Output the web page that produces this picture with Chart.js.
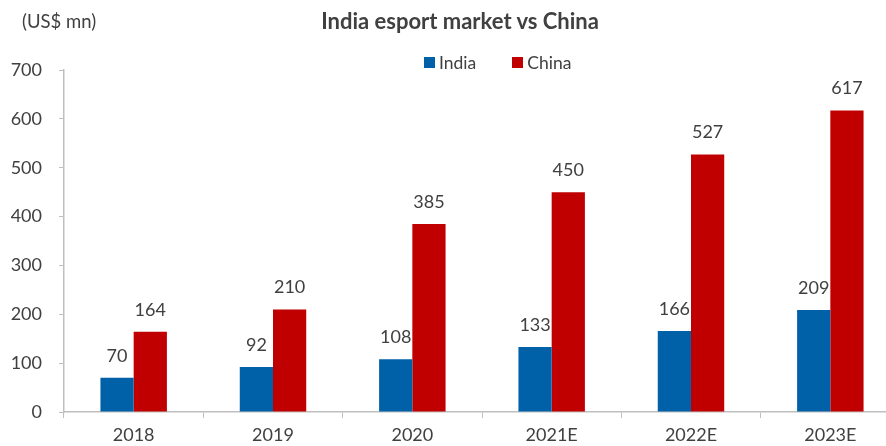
<!DOCTYPE html>
<html>
<head>
<meta charset="utf-8">
<script src="https://cdn.jsdelivr.net/npm/chart.js@4/dist/chart.umd.min.js"></script>
<style>
  html, body { margin:0; padding:0; background:#fff; overflow:hidden; }
  body { width:886px; height:446px; position:relative; font-family:Lato, "DejaVu Sans", sans-serif; color:#404040; }
  #wrap { position:absolute; left:0; top:0; width:900px; height:446px; }
  .unit { position:absolute; left:22px; top:10px; font-size:18.5px; }
  .title { position:absolute; left:0; width:920px; top:7px; text-align:center; font-size:22px; font-weight:700; }
  .legend { position:absolute; left:424px; top:52px; font-size:17.5px; display:flex; align-items:center; }
  .legend span.sw { display:inline-block; width:11px; height:11px; margin-right:4px; }
  .legend span.lb { margin-right:36px; }
</style>
</head>
<body>
<div id="wrap"><canvas id="chart" width="900" height="446"></canvas></div>
<div class="unit">(US$ mn)</div>
<div class="title">India esport market vs China</div>
<div class="legend">
  <span class="sw" style="background:#0060A8"></span><span class="lb">India</span>
  <span class="sw" style="background:#C00000"></span><span class="lb">China</span>
</div>
<script>
/* esport market size, US$ mn */
const years   = ['2018', '2019', '2020', '2021E', '2022E', '2023E'];
const india   = [70, 92, 108, 133, 166, 209];
const china   = [164, 210, 385, 450, 527, 617];
const yTicks  = [0, 100, 200, 300, 400, 500, 600, 700];

const AXIS = '#BFBFBF';
const TEXT = '#404040';
const FONT = { family: 'Lato', size: 18 };

// value labels above each bar
const barValues = {
    id: 'barValues',
    afterDatasetsDraw(chart) {
        const ctx = chart.ctx;
        ctx.save();
        ctx.font = '18px Lato';
        ctx.fillStyle = TEXT;
        ctx.textAlign = 'center';
        ctx.textBaseline = 'middle';
        chart.data.datasets.forEach((ds, di) => {
            chart.getDatasetMeta(di).data.forEach((bar, i) => {
                ctx.fillText(String(ds.data[i]), bar.x, bar.y - 22);
            });
        });
        ctx.restore();
    }
};

new Chart(document.getElementById('chart').getContext('2d'), {
    type: 'bar',
    data: {
        labels: years,
        datasets: [
            { label: 'India', data: india, backgroundColor: '#0060A8' },
            { label: 'China', data: china, backgroundColor: '#C00000' }
        ]
    },
    options: {
        responsive: false,
        animation: false,
        devicePixelRatio: 1,
        layout: { padding: { top: 70, left: 0, right: 0, bottom: 0 } },
        datasets: { bar: { barPercentage: 1, categoryPercentage: 0.477 } },
        plugins: { legend: { display: false }, tooltip: { enabled: false } },
        scales: {
            x: {
                grid: { offset: true, drawOnChartArea: false, drawTicks: true, tickLength: 6, color: AXIS },
                border: { color: AXIS, width: 1.5 },
                ticks: { color: TEXT, font: FONT, padding: 6 },
                afterFit: s => { s.height = 34; }
            },
            y: {
                min: 0, max: 700,
                afterBuildTicks: s => { s.ticks = yTicks.map(v => ({ value: v })); },
                grid: { drawOnChartArea: false, drawTicks: true, tickLength: 5, color: AXIS },
                border: { color: AXIS, width: 1.5 },
                ticks: { color: TEXT, font: FONT, padding: 17 },
                afterFit: s => { s.width = 64; }
            }
        }
    },
    plugins: [barValues]
});
</script>
</body>
</html>
